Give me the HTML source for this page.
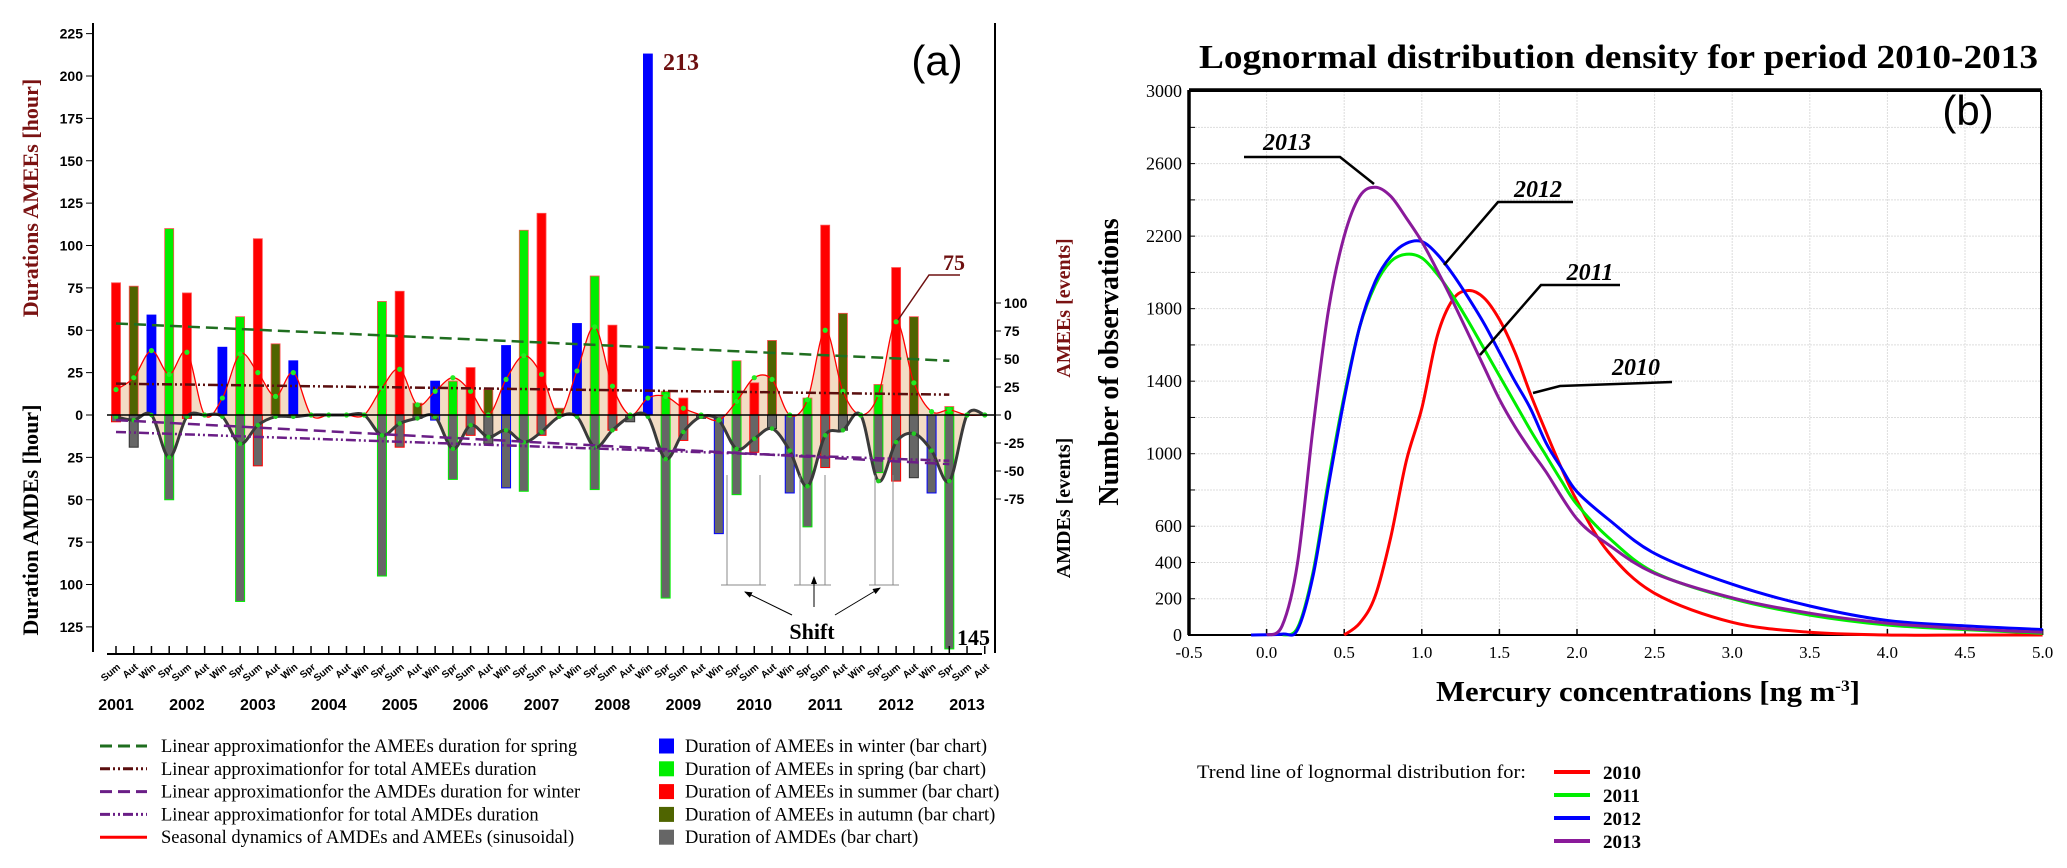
<!DOCTYPE html>
<html><head><meta charset="utf-8"><style>
html,body{margin:0;padding:0;background:#fff;}
svg{display:block;}
</style></head><body>
<svg id="s" width="2067" height="868" viewBox="0 0 2067 868" xmlns="http://www.w3.org/2000/svg">
<g id="left"></g>
<g id="right"></g>
</svg>
<script>
// ---------- Chart (a) data ----------
const seasons = ['Sum','Aut','Win','Spr'];
const yearLabels = ['2001','2002','2003','2004','2005','2006','2007','2008','2009','2010','2011','2012','2013'];
const ameeHours = [78,76,59,110,72,0,40,58,104,42,32,0,0,0,0,67,73,7,20,20,28,15,41,109,119,4,54,82,53,0,213,14,10,0,0,32,19,44,0,10,112,60,0,18,87,58,0,5,0,0];
const amdeHours = [4,19,0,50,2,0,0,110,30,0,0,0,0,0,0,95,19,2,3,38,12,17,43,45,12,0,0,44,9,4,0,108,15,2,70,47,22,8,46,66,31,9,0,34,39,37,46,138,0,0];
const ameeSinus = [15,22,38,24,37,0,10,36,25,11,25,0,0,0,0,16,27,6,14,22,14,0,21,35,24,0,26,52,17,0,10,11,4,0,-3,8,22,21,0,9,50,14,0,12,55,19,2,3,0,0];
const amdeSinus = [1,3,0,25,1,0,1,17,6,1,1,0,0,0,0,12,5,2,1,20,6,13,9,16,10,1,1,19,9,1,1,26,10,1,3,20,14,8,21,42,12,9,0,39,16,11,21,39,0,0];
const upperTicks = [0,25,50,75,100,125,150,175,200,225];
const lowerTicks = [25,50,75,100,125];
const eventTicks = [100,75,50,25,0,-25,-50,-75];
const trendSpring = [54,32];
const trendTotalAmee = [18.5,12];
const trendWinterAmde = [3,29];
const trendTotalAmde = [10,27];

// ---------- Chart (b) data ----------
const xTicksB = [-0.5,0.0,0.5,1.0,1.5,2.0,2.5,3.0,3.5,4.0,4.5,5.0];
const yTicksB = [0,200,400,600,1000,1400,1800,2200,2600,3000];
const x2010 = [0.5,0.6,0.7,0.8,0.9,1.0,1.1,1.2,1.3,1.4,1.5,1.6,1.7,1.8,1.9,2.0,2.2,2.5,3.0,3.5,4.0,4.5,5.0];
const y2010 = [0,65,215,540,960,1250,1650,1850,1900,1860,1740,1560,1330,1120,920,740,460,230,70,15,0,0,0];
const x2011 = [0.1,0.2,0.3,0.4,0.5,0.6,0.7,0.8,0.9,1.0,1.1,1.2,1.3,1.4,1.5,1.6,1.7,1.8,1.9,2.0,2.2,2.5,3.0,3.5,4.0,4.5,5.0];
const y2011 = [0,40,350,860,1320,1700,1930,2060,2100,2080,1990,1870,1730,1580,1430,1280,1130,990,850,720,540,345,200,110,55,30,10];
const x2012 = [-0.1,0.1,0.2,0.3,0.4,0.5,0.6,0.7,0.8,0.9,1.0,1.1,1.2,1.3,1.4,1.5,1.6,1.7,1.8,1.9,2.0,2.2,2.5,3.0,3.5,4.0,4.5,5.0];
const y2012 = [0,5,30,330,830,1300,1700,1950,2090,2160,2170,2100,1990,1860,1720,1560,1400,1250,1060,920,790,640,450,280,160,80,50,30];
const x2013 = [0.0,0.1,0.2,0.3,0.4,0.5,0.6,0.7,0.8,0.9,1.0,1.1,1.2,1.3,1.4,1.5,1.6,1.7,1.8,2.0,2.2,2.5,3.0,3.5,4.0,4.5,5.0];
const y2013 = [0,50,400,1150,1800,2200,2420,2470,2420,2300,2170,2010,1840,1660,1480,1300,1150,1020,900,640,500,340,205,120,65,35,15];

const NS='http://www.w3.org/2000/svg';
function mk(parent,tag,attrs,text){const e=document.createElementNS(NS,tag);for(const k in attrs)e.setAttribute(k,attrs[k]);if(text!==undefined)e.textContent=text;parent.appendChild(e);return e;}
function smooth(pts){let d='M'+pts[0][0]+','+pts[0][1];for(let i=0;i<pts.length-1;i++){const p0=pts[Math.max(0,i-1)],p1=pts[i],p2=pts[i+1],p3=pts[Math.min(pts.length-1,i+2)];const c1=[p1[0]+(p2[0]-p0[0])/6,p1[1]+(p2[1]-p0[1])/6],c2=[p2[0]-(p3[0]-p1[0])/6,p2[1]-(p3[1]-p1[1])/6];d+=' C'+c1[0].toFixed(1)+','+c1[1].toFixed(1)+' '+c2[0].toFixed(1)+','+c2[1].toFixed(1)+' '+p2[0].toFixed(1)+','+p2[1].toFixed(1);}return d;}

// ================= Chart (a) =================
const L=document.getElementById('left');
const X0=116, DX=17.73, ZERO=415, K=1.695, EK=1.12;
const xa=i=>X0+i*DX, yu=v=>ZERO-v*K, yl=v=>ZERO+v*K, ye=v=>ZERO-v*EK;
const sCol={Sum:'#ff0000',Aut:'#4f6400',Win:'#0000ff',Spr:'#00ee00'};
const font='Liberation Sans, Arial, sans-serif', serif='Liberation Serif, Times New Roman, serif';

const up=ameeSinus.map((v,i)=>[xa(i),yu(v)]);
const lo=amdeSinus.map((v,i)=>[xa(i),yl(v)]);
let fu=mk(L,'path',{d:smooth(up)+` L${xa(ameeSinus.length-1)},${ZERO} L${xa(0)},${ZERO} Z`,fill:'#f3dcc4',stroke:'none'});

let fl=mk(L,'path',{d:smooth(lo)+` L${xa(amdeSinus.length-1)},${ZERO} L${xa(0)},${ZERO} Z`,fill:'#f3dcc4',stroke:'none'});


for(let i=0;i<ameeHours.length;i++){
  const s=seasons[i%4];
  if(ameeHours[i]>0){
    const b=mk(L,'rect',{x:xa(i)-4.5,y:yu(ameeHours[i]),width:9,height:ameeHours[i]*K,fill:sCol[s],stroke:s==='Win'?'#0000ff':'#ff5050','stroke-width':0.8});
    
    
  }
  if(amdeHours[i]>0){
    const b=mk(L,'rect',{x:xa(i)-4.5,y:ZERO,width:9,height:amdeHours[i]*K,fill:'#666',stroke:s==='Aut'?'#333':sCol[s],'stroke-width':1});
    
    
  }
}
let su=mk(L,'path',{d:smooth(up),fill:'none',stroke:'#ff0000','stroke-width':1.3});

let sl=mk(L,'path',{d:smooth(lo),fill:'none',stroke:'#3a3a3a','stroke-width':3});

ameeSinus.forEach((v,i)=>{const c=mk(L,'circle',{cx:xa(i),cy:yu(v),r:2.6,fill:'#22ee22'});});
amdeSinus.forEach((v,i)=>{const c=mk(L,'circle',{cx:xa(i),cy:yl(v),r:2.3,fill:'#22cc22'});});

function trend(vals,f,col,dash,w,name){const t=mk(L,'line',{x1:xa(0),y1:f(vals[0]),x2:xa(47),y2:f(vals[1]),stroke:col,'stroke-width':w,'stroke-dasharray':dash});}
trend(trendSpring,yu,'#1f6e1f','12 6',2.5,'trend-spring-amee');
trend(trendTotalAmee,yu,'#5a0e0e','10 3 2 3 2 3',2.5,'trend-total-amee');
trend(trendWinterAmde,yl,'#6a1e86','12 6',2.5,'trend-winter-amde');
trend(trendTotalAmde,yl,'#6a1e86','10 3 2 3 2 3',2.5,'trend-total-amde');

mk(L,'line',{x1:107,y1:ZERO,x2:995,y2:ZERO,stroke:'#000','stroke-width':1.5});
let ya=mk(L,'line',{x1:93,y1:23,x2:93,y2:652,stroke:'#000','stroke-width':2});
let yr=mk(L,'line',{x1:995,y1:23,x2:995,y2:653,stroke:'#000','stroke-width':2});
let xx=mk(L,'line',{x1:107,y1:654,x2:982,y2:654,stroke:'#000','stroke-width':2});
upperTicks.forEach(v=>{mk(L,'line',{x1:86,y1:yu(v),x2:93,y2:yu(v),stroke:'#000'});const t=mk(L,'text',{x:83,y:yu(v)+5,'text-anchor':'end','font-family':font,'font-weight':'bold','font-size':14},v);});
lowerTicks.forEach(v=>{mk(L,'line',{x1:86,y1:yl(v),x2:93,y2:yl(v),stroke:'#000'});const t=mk(L,'text',{x:83,y:yl(v)+5,'text-anchor':'end','font-family':font,'font-weight':'bold','font-size':14},v);});
eventTicks.forEach(v=>{mk(L,'line',{x1:995,y1:ye(v),x2:1001,y2:ye(v),stroke:'#000'});const t=mk(L,'text',{x:1004,y:ye(v)+5,'font-family':font,'font-weight':'bold','font-size':14},v);});
for(let i=0;i<50;i++){
  mk(L,'line',{x1:xa(i),y1:654,x2:xa(i),y2:646,stroke:'#000','stroke-width':1.5});
  const t=mk(L,'text',{x:xa(i)+5,y:668,'text-anchor':'end','font-family':font,'font-weight':'bold','font-size':10,transform:`rotate(-40 ${xa(i)+5} 668)`},seasons[i%4]);
  
}
yearLabels.forEach((y,k)=>{const t=mk(L,'text',{x:xa(k*4),y:710,'text-anchor':'middle','font-family':font,'font-weight':'bold','font-size':16},y);});

let t1=mk(L,'text',{x:38,y:198,'text-anchor':'middle','font-family':serif,'font-weight':'bold','font-size':22,fill:'#7a1212',transform:'rotate(-90 38 198)'},'Durations AMEEs [hour]');
let t2=mk(L,'text',{x:38,y:520,'text-anchor':'middle','font-family':serif,'font-weight':'bold','font-size':22,fill:'#000',transform:'rotate(-90 38 520)'},'Duration AMDEs [hour]');
let t3=mk(L,'text',{x:1070,y:308,'text-anchor':'middle','font-family':serif,'font-weight':'bold','font-size':20,fill:'#7a1212',transform:'rotate(-90 1070 308)'},'AMEEs [events]');
let t4=mk(L,'text',{x:1070,y:508,'text-anchor':'middle','font-family':serif,'font-weight':'bold','font-size':20,fill:'#000',transform:'rotate(-90 1070 508)'},'AMDEs [events]');
let pa=mk(L,'text',{x:937,y:75,'text-anchor':'middle','font-family':font,'font-size':42},'(a)');
let a213=mk(L,'text',{x:663,y:70,'font-family':serif,'font-weight':'bold','font-size':24,fill:'#6e1010'},'213');
let a75=mk(L,'text',{x:943,y:270,'font-family':serif,'font-weight':'bold','font-size':22,fill:'#6e1010'},'75');
mk(L,'polyline',{points:'960,275 929,275 898,320',fill:'none',stroke:'#6e1010','stroke-width':1.5});
let a145=mk(L,'text',{x:957,y:645,'font-family':serif,'font-weight':'bold','font-size':22},'145');
[[727,760],[800,825],[875,893]].forEach(p=>{
  mk(L,'line',{x1:p[0],y1:ZERO+60,x2:p[0],y2:585,stroke:'#888','stroke-width':1});
  mk(L,'line',{x1:p[1],y1:ZERO+60,x2:p[1],y2:585,stroke:'#888','stroke-width':1});
  mk(L,'line',{x1:p[0]-6,y1:585,x2:p[1]+6,y2:585,stroke:'#888','stroke-width':1});
});
mk(L,'defs',{}).innerHTML='<marker id="ar" markerWidth="8" markerHeight="6" refX="7" refY="3" orient="auto"><path d="M0,0 L8,3 L0,6 Z" fill="#000"/></marker>';
mk(L,'line',{x1:792,y1:615,x2:745,y2:592,stroke:'#000','marker-end':'url(#ar)'});
mk(L,'line',{x1:814,y1:607,x2:814,y2:577,stroke:'#000','marker-end':'url(#ar)'});
mk(L,'line',{x1:835,y1:615,x2:880,y2:588,stroke:'#000','marker-end':'url(#ar)'});
let sh=mk(L,'text',{x:812,y:639,'text-anchor':'middle','font-family':serif,'font-weight':'bold','font-size':22},'Shift');

const leg1=[['Linear approximationfor the AMEEs duration for spring','#1f6e1f','12 6'],['Linear approximationfor for total AMEEs duration','#5a0e0e','10 3 2 3 2 3'],['Linear approximationfor the AMDEs duration for winter','#6a1e86','12 6'],['Linear approximationfor for total AMDEs duration','#6a1e86','10 3 2 3 2 3'],['Seasonal dynamics of AMDEs and AMEEs (sinusoidal)','#ff0000','']];
leg1.forEach((r,k)=>{const y=746+k*22.8;mk(L,'line',{x1:100,y1:y,x2:147,y2:y,stroke:r[1],'stroke-width':3,'stroke-dasharray':r[2]});const t=mk(L,'text',{x:161,y:y+6,'font-family':serif,'font-size':18.5},r[0]);});
const leg2=[['Duration of AMEEs in winter (bar chart)','#0000ff'],['Duration of AMEEs in spring (bar chart)','#00ee00'],['Duration of AMEEs in summer (bar chart)','#ff0000'],['Duration of AMEEs in autumn (bar chart)','#4f6400'],['Duration of AMDEs (bar chart)','#666']];
leg2.forEach((r,k)=>{const y=746+k*22.8;mk(L,'rect',{x:659,y:y-7.5,width:15,height:15,fill:r[1]});const t=mk(L,'text',{x:685,y:y+6,'font-family':serif,'font-size':18.5},r[0]);});

// ================= Chart (b) =================
const R=document.getElementById('right');
const BX0=1189, BXK=155.2, BY0=635, BYK=0.1813;
const xb=v=>BX0+(v+0.5)*BXK, yb=v=>BY0-v*BYK;
xTicksB.forEach(v=>{mk(R,'line',{x1:xb(v),y1:91,x2:xb(v),y2:BY0,stroke:'#ddd','stroke-width':1,'stroke-dasharray':'2 1'});mk(R,'line',{x1:xb(v),y1:BY0,x2:xb(v),y2:BY0-6,stroke:'#000','stroke-width':1.5});
  const t=mk(R,'text',{x:xb(v),y:658,'text-anchor':'middle','font-family':serif,'font-size':17},v.toFixed(1));});
for(let v=200;v<3000;v+=200){mk(R,'line',{x1:BX0,y1:yb(v),x2:2041,y2:yb(v),stroke:'#ddd','stroke-width':1,'stroke-dasharray':'2 1'});mk(R,'line',{x1:BX0,y1:yb(v),x2:BX0+6,y2:yb(v),stroke:'#000'});}
yTicksB.forEach(v=>{const t=mk(R,'text',{x:1182,y:yb(v)+6,'text-anchor':'end','font-family':serif,'font-size':18},v);});
let fr=mk(R,'rect',{x:BX0,y:91,width:2041-BX0,height:BY0-91,fill:'none',stroke:'#000','stroke-width':2});
mk(R,'line',{x1:BX0,y1:90,x2:BX0,y2:BY0,stroke:'#000','stroke-width':3.5});
mk(R,'line',{x1:BX0,y1:90,x2:2041,y2:90,stroke:'#000','stroke-width':3.5});
function curve(xs,ys,col,name){const pts=xs.map((x,i)=>[xb(x),yb(ys[i])]);const p=mk(R,'path',{d:smooth(pts),fill:'none',stroke:col,'stroke-width':3});}
curve(x2010,y2010,'#ff0000','curve-2010');
curve(x2011,y2011,'#00ee00','curve-2011');
curve(x2012,y2012,'#0000ff','curve-2012');
curve(x2013,y2013,'#8a1a9a','curve-2013');
const lbls=[['2013',1287,150,'1244,157 1340,157 1374,184'],['2012',1538,197,'1573,202 1498,202 1444,265'],['2011',1590,280,'1620,285 1541,285 1480,355'],['2010',1636,375,'1672,382 1560,386 1533,393']];
lbls.forEach(l=>{mk(R,'polyline',{points:l[3],fill:'none',stroke:'#000','stroke-width':2.5});const t=mk(R,'text',{x:l[1],y:l[2],'text-anchor':'middle','font-family':serif,'font-weight':'bold','font-style':'italic','font-size':24},l[0]);});
let tt=mk(R,'text',{x:1199,y:68,'font-family':serif,'font-weight':'bold','font-size':34,textLength:839,lengthAdjust:'spacingAndGlyphs'},'Lognormal distribution density for period 2010-2013');
let yt=mk(R,'text',{x:1118,y:362,'text-anchor':'middle','font-family':serif,'font-weight':'bold','font-size':28,transform:'rotate(-90 1118 362)'},'Number of observations');
let xt=mk(R,'text',{x:1436,y:701,'font-family':serif,'font-weight':'bold','font-size':28,textLength:424,lengthAdjust:'spacingAndGlyphs'},'');
xt.innerHTML='Mercury concentrations [ng m<tspan dy="-10" font-size="16">-3</tspan><tspan dy="10">]</tspan>';
let pb=mk(R,'text',{x:1968,y:125,'text-anchor':'middle','font-family':font,'font-size':42},'(b)');
let lt=mk(R,'text',{x:1197,y:778,'font-family':serif,'font-size':19,textLength:329,lengthAdjust:'spacingAndGlyphs'},'Trend line of lognormal distribution for:');
[['2010','#ff0000'],['2011','#00ee00'],['2012','#0000ff'],['2013','#8a1a9a']].forEach((l,k)=>{const y=772+k*23;mk(R,'line',{x1:1554,y1:y,x2:1590,y2:y,stroke:l[1],'stroke-width':4});const t=mk(R,'text',{x:1603,y:y+7,'font-family':serif,'font-weight':'bold','font-size':19},l[0]);});
</script>
</body></html>
